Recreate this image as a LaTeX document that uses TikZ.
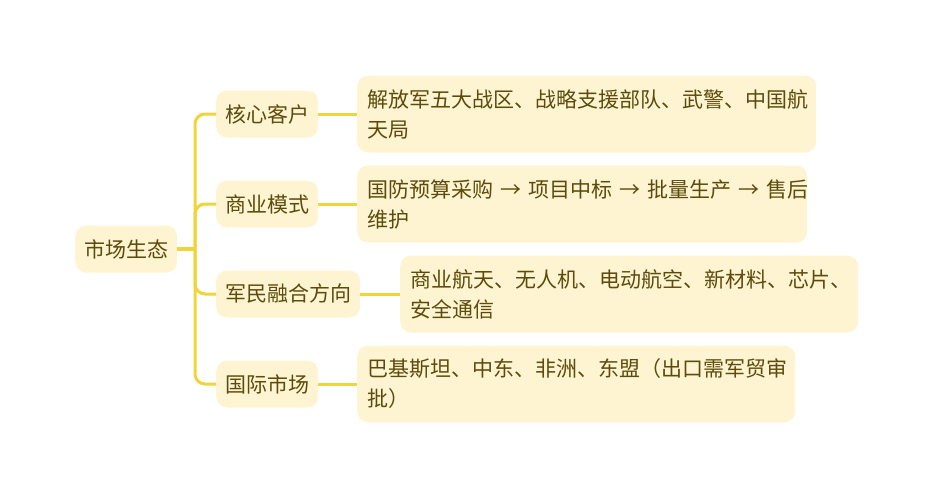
\documentclass[tikz,border=0pt]{standalone}
\usepackage{fontspec}
\setmainfont{Noto Sans CJK SC}
\usepackage{tikz}
\usetikzlibrary{positioning}

\definecolor{boxfill}{HTML}{FEF4D2}
\definecolor{boxtext}{HTML}{5C4B0A}
\definecolor{linkgold}{HTML}{F0D43A}

\begin{document}
\begin{tikzpicture}[
	x=1pt, y=-1pt,
	topic/.style={draw=none,fill=boxfill,text=boxtext,rounded corners=11pt,
		font=\fontsize{21}{30}\selectfont,inner xsep=9pt,inner ysep=0pt,
		minimum height=47pt,anchor=west},
	leaf/.style={topic,minimum height=77pt,align=left,inner xsep=10pt},
	link/.style={draw=linkgold,line width=3pt,rounded corners=10pt}
	]
	\useasboundingbox (0,0) rectangle (933,498);
	% root and branches
	\node [topic,name=R] (R) at (75,249) {市场生态};
	\node [topic,name=C1] (C1) at (216,114) {核心客户};
	\node [topic,name=C2] (C2) at (216,204) {商业模式};
	\node [topic,name=C3] (C3) at (216,294) {军民融合方向};
	\node [topic,name=C4] (C4) at (216,384) {国际市场};
	% leaves
	\node [leaf,text width=439pt,name=L1] (L1) at (357,114) {\mbox{解放军五大战区、战略支援部队、武警、中国航}\\天局};
	\node [leaf,text width=430pt,name=L2] (L2) at (357,204) {\mbox{国防预算采购 → 项目中标 → 批量生产 → 售后}\\维护};
	\node [leaf,text width=438pt,name=L3] (L3) at (400,294) {\mbox{商业航天、无人机、电动航空、新材料、芯片、}\\安全通信};
	\node [leaf,text width=418pt,name=L4] (L4) at (357,384) {\mbox{巴基斯坦、中东、非洲、东盟（出口需军贸审}\\批）};
	% connectors
	\coordinate (J) at (195,249);
	\draw [link,line width=3.5pt] (R.east) -- (J);
	\foreach \c in {C1,C2,C3,C4}
		\draw [link] (J) |- (\c.west);
	\draw [link] (C1.east) -- (L1.west);
	\draw [link] (C2.east) -- (L2.west);
	\draw [link] (C3.east) -- (L3.west);
	\draw [link] (C4.east) -- (L4.west);
\end{tikzpicture}
\end{document}
